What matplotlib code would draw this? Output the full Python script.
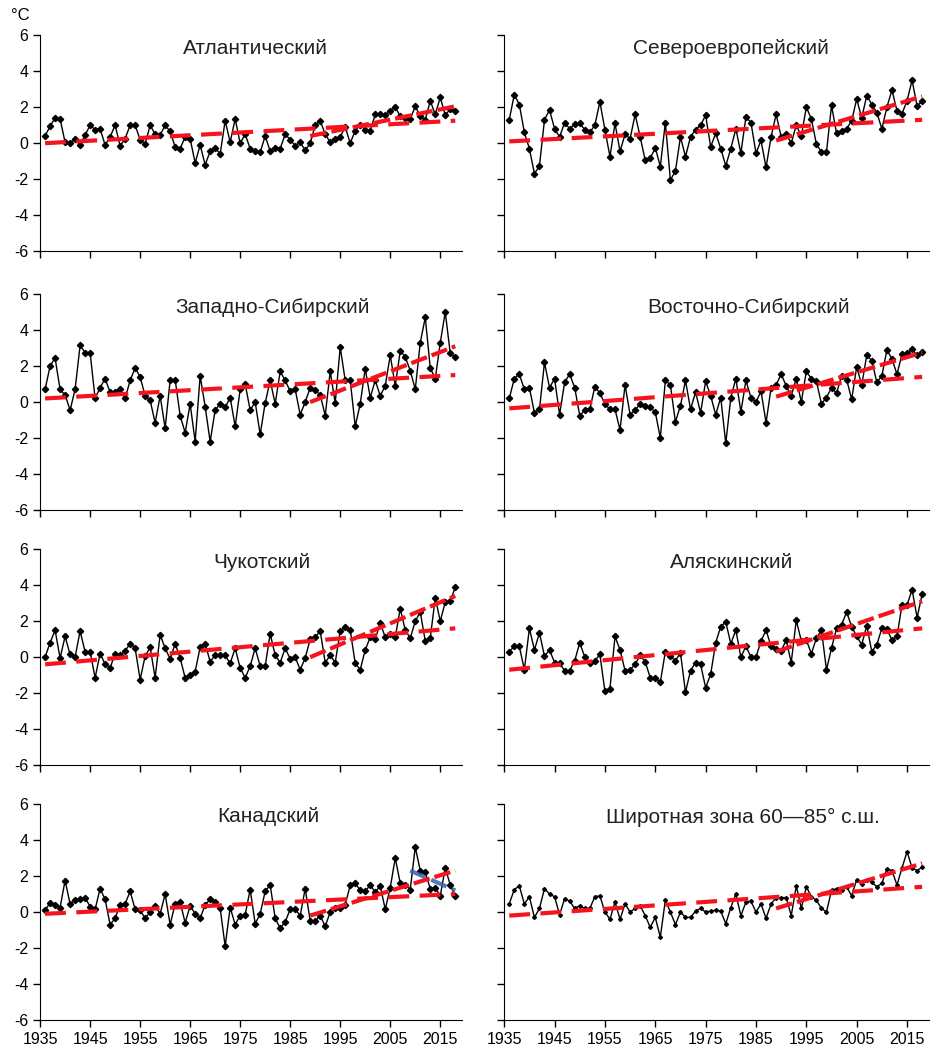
import numpy as np
from matplotlib import pyplot as plt

plt.rcParams['font.family'] = ['Liberation Sans', 'DejaVu Sans']
plt.rcParams['axes.unicode_minus'] = False

years = np.arange(1936, 2019)

names = ['Атлантический', 'Североевропейский',
         'Западно-Сибирский', 'Восточно-Сибирский',
         'Чукотский', 'Аляскинский',
         'Канадский', 'Широтная зона 60—85° с.ш.']

atlantic = [0.4, 0.95, 1.4, 1.35, 0.05, 0.0, 0.25, -0.1, 0.45, 1.0, 0.75, 0.8, -0.1, 0.35, 1.0,
            -0.15, 0.25, 1.0, 1.0, 0.2, -0.05, 1.0, 0.5, 0.45, 1.0, 0.65, -0.2, -0.3, 0.35, 0.25,
            -1.1, -0.1, -1.2, -0.45, -0.25, -0.6, 1.25, 0.05, 1.35, 0.0, 0.5, -0.3, -0.45, -0.5,
            0.4, -0.45, -0.25, -0.3, 0.5, 0.2, -0.15, 0.05, -0.4, 0.0, 1.0, 1.25, 0.5, 0.05, 0.25,
            0.35, 0.9, 0.0, 0.7, 1.0, 0.75, 0.7, 1.6, 1.6, 1.55, 1.8, 2.0, 1.5, 1.4, 1.35, 2.05,
            1.5, 1.3, 2.35, 1.6, 2.55, 1.55, 1.9, 1.8]

north_europe = [1.3, 2.7, 2.15, 0.6, -0.3, -1.7, -1.25, 1.3, 1.85, 0.8, 0.35, 1.15, 0.8, 1.05,
                1.1, 0.75, 0.6, 1.0, 2.3, 0.75, -0.75, 1.1, -0.45, 0.5, 0.25, 1.6, 0.35, -0.95,
                -0.85, -0.25, -1.3, 1.15, -2.05, -1.55, 0.35, -0.75, 0.35, 0.75, 1.0, 1.55, -0.2,
                0.55, -0.3, -1.25, -0.3, 0.8, -0.55, 1.45, 1.15, -0.55, 0.15, -1.35, 0.35, 1.6,
                0.35, 0.5, 0.0, 1.0, 0.4, 2.0, 1.35, -0.05, -0.5, -0.5, 2.1, 0.55, 0.7, 0.8, 1.25,
                2.45, 1.4, 2.65, 2.15, 1.7, 0.8, 2.0, 2.95, 1.8, 1.65, 2.35, 3.5, 2.05, 2.35]

west_siberia = [0.7, 2.0, 2.45, 0.7, 0.4, -0.45, 0.7, 3.15, 2.75, 2.75, 0.2, 0.8, 1.3, 0.55, 0.55,
                0.7, 0.2, 1.2, 1.9, 1.4, 0.35, 0.1, -1.15, 0.35, -1.45, 1.2, 1.25, -0.75, -1.7,
                -0.1, -2.2, 1.45, -0.25, -2.2, -0.45, -0.1, -0.3, 0.25, -1.35, 0.7, 1.0, -0.45,
                0.0, -1.8, -0.05, 1.2, -0.1, 1.7, 1.2, 0.6, 0.7, -0.7, 0.0, 0.8, 0.65, 0.4, -0.75,
                1.7, -0.05, 3.05, 1.2, 1.2, -1.35, -0.1, 1.85, 0.25, 1.2, 0.35, 0.9, 2.6, 0.9,
                2.85, 2.5, 1.75, 0.7, 3.3, 4.7, 1.9, 1.3, 3.3, 5.0, 2.7, 2.5]

east_siberia = [0.2, 1.3, 1.55, 0.7, 0.8, -0.6, -0.4, 2.2, 0.8, 1.3, -0.7, 1.1, 1.55, 0.8, -0.75,
                -0.45, -0.4, 0.85, 0.5, -0.1, -0.4, -0.4, -1.55, 0.95, -0.7, -0.45, -0.1, -0.2,
                -0.3, -0.55, -2.0, 1.2, 0.95, -1.1, -0.2, 1.2, -0.4, 0.55, -0.6, 1.15, 0.35, -0.7,
                0.25, -2.3, 0.25, 1.3, -0.55, 1.2, 0.25, 0.0, 0.6, -1.15, 0.8, 0.95, 1.55, 0.9,
                0.35, 1.3, 0.0, 1.7, 1.3, 1.15, -0.1, 0.25, 0.8, 0.5, 1.45, 1.25, 0.15, 1.95, 0.95,
                2.6, 2.3, 1.1, 1.45, 2.9, 2.4, 1.55, 2.65, 2.7, 2.95, 2.6, 2.8]

chukotka = [0.0, 0.8, 1.5, -0.05, 1.15, 0.15, 0.0, 1.45, 0.3, 0.3, -1.15, 0.2, -0.4, -0.6, 0.2,
            0.1, 0.35, 0.75, 0.5, -1.25, 0.05, 0.55, -1.15, 1.25, 0.5, -0.1, 0.75, -0.05, -1.15,
            -1.0, -0.8, 0.55, 0.75, -0.25, 0.1, 0.1, 0.1, -0.35, 0.5, -0.6, -1.15, -0.5, 0.5,
            -0.5, -0.5, 1.3, 0.1, -0.3, 0.5, -0.1, 0.0, -0.7, -0.05, 1.0, 1.1, 1.45, -0.3, 0.1,
            -0.3, 1.45, 1.65, 1.5, -0.35, -0.7, 0.4, 1.1, 1.0, 1.9, 1.1, 1.3, 1.1, 2.7, 1.5,
            1.05, 2.0, 2.5, 0.9, 1.05, 3.3, 2.0, 3.05, 3.1, 3.9]

alaska = [0.3, 0.6, 0.6, -0.7, 1.6, 0.4, 1.35, 0.05, 0.4, -0.3, -0.35, -0.75, -0.75, -0.2, 0.8,
          0.0, -0.35, -0.2, 0.15, -1.9, -1.75, 1.15, 0.4, -0.75, -0.7, -0.4, 0.1, -0.25, -1.15,
          -1.15, -1.4, 0.3, 0.05, -0.2, 0.25, -1.95, -0.75, -0.3, -0.4, -1.7, -0.95, 0.8, 1.7,
          1.95, 0.75, 1.5, 0.0, 0.6, 0.0, 0.0, 0.9, 1.5, 0.6, 0.45, 0.35, 0.95, -0.3, 2.05, 0.9,
          0.95, 0.2, 1.05, 1.5, -0.7, 0.5, 1.6, 1.8, 2.5, 1.7, 1.15, 0.7, 1.75, 0.3, 0.7, 1.6,
          1.55, 0.95, 1.15, 2.9, 2.9, 3.75, 2.2, 3.5]

canada = [0.1, 0.5, 0.4, 0.25, 1.75, 0.45, 0.65, 0.7, 0.8, 0.3, 0.15, 1.3, 0.7, -0.7, -0.35,
          0.4, 0.45, 1.15, 0.15, 0.1, -0.35, 0.0, 0.35, -0.1, 1.0, -0.7, 0.45, 0.55, -0.6, 0.35,
          -0.1, -0.35, 0.4, 0.7, 0.55, 0.2, -1.9, 0.25, -0.7, -0.2, -0.15, 1.25, -0.65, -0.1,
          1.15, 1.5, -0.35, -0.9, -0.55, 0.15, 0.15, -0.2, 1.3, -0.5, -0.5, -0.2, -0.8, 0.0,
          0.2, 0.25, 0.4, 1.5, 1.6, 1.2, 1.15, 1.5, 1.1, 1.45, 0.15, 1.35, 3.0, 1.6, 1.5, 1.25,
          3.6, 2.3, 2.2, 1.3, 1.35, 0.9, 2.45, 1.5, 0.9]

zone_60_85 = [0.45, 1.25, 1.45, 0.45, 0.85, -0.3, 0.2, 1.3, 1.0, 0.85, -0.15, 0.75, 0.6, 0.2,
              0.35, 0.2, 0.2, 0.85, 0.9, 0.0, -0.4, 0.55, -0.4, 0.45, 0.0, 0.2, 0.35, -0.2, -0.85,
              -0.3, -1.4, 0.65, 0.0, -0.7, 0.0, -0.3, -0.3, 0.05, 0.2, 0.0, 0.05, 0.1, 0.05,
              -0.65, 0.25, 1.0, -0.2, 0.55, 0.6, 0.0, 0.45, -0.35, 0.45, 0.8, 0.8, 0.8, -0.2,
              1.45, 0.2, 1.4, 0.85, 0.65, 0.2, 0.0, 1.2, 1.3, 1.2, 1.4, 0.9, 1.8, 1.55, 1.8, 1.65,
              1.4, 1.6, 2.4, 2.3, 1.5, 2.45, 3.35, 2.45, 2.3, 2.5]

series = [atlantic, north_europe, west_siberia, east_siberia,
          chukotka, alaska, canada, zone_60_85]

# trend lines: (value at start, value at end)
trend_full = [(0.0, 1.25), (0.1, 1.3), (0.2, 1.5), (-0.35, 1.4),
              (-0.4, 1.6), (-0.7, 1.6), (-0.1, 1.0), (-0.2, 1.4)]
recent_start = 1989
trend_recent = [(0.4, 2.05), (0.15, 2.6), (0.0, 3.1), (0.3, 2.75),
                (0.0, 3.4), (0.3, 3.1), (-0.2, 2.3), (0.2, 2.7)]
canada_blue_years = [2009, 2018]
canada_blue = [2.3, 1.2]

title_x = [0.51, 0.534, 0.55, 0.574, 0.525, 0.536, 0.54, 0.562]

fig = plt.figure(figsize=(9.32, 10.51), dpi=100)
lefts = [0.043, 0.541]
widths = [0.453, 0.456]
bottoms = [0.761, 0.5147, 0.272, 0.0295]
h = 0.2055

red = '#f5141e'
for k in range(8):
    r, c = divmod(k, 2)
    ax = fig.add_axes([lefts[c], bottoms[r], widths[c], h])
    ax.plot(years, series[k], color='black', lw=1.0,
            marker='D', ms=3.2 if k < 7 else 2.0, zorder=3)
    ax.plot([years[0], years[-1]], trend_full[k], color=red, lw=3,
            dashes=(5, 2.5), zorder=4)
    ax.plot([recent_start, years[-1]], trend_recent[k], color=red, lw=3,
            dashes=(4, 1.2), zorder=4)
    if k == 6:
        ax.plot(canada_blue_years, canada_blue, color='#3a5fb0', lw=3,
                dashes=(4, 1.5), alpha=0.85, zorder=5)
    ax.set_xlim(1935, 2019.4)
    ax.set_ylim(-6, 6)
    ax.set_yticks(np.arange(-6, 7, 2))
    ax.set_xticks(np.arange(1935, 2016, 10))
    for s in ['top', 'right']:
        ax.spines[s].set_visible(False)
    ax.tick_params(direction='out', length=5, labelsize=11.5, width=1)
    if c == 1:
        ax.set_yticklabels([])
    if r < 3:
        ax.set_xticklabels([])
    ax.text(title_x[k], 0.94, names[k], transform=ax.transAxes,
            ha='center', va='center', fontsize=15, color='#222222')

fig.text(0.012, 0.985, '°C', fontsize=12, va='center')
fig.savefig('out.png', dpi=100)
